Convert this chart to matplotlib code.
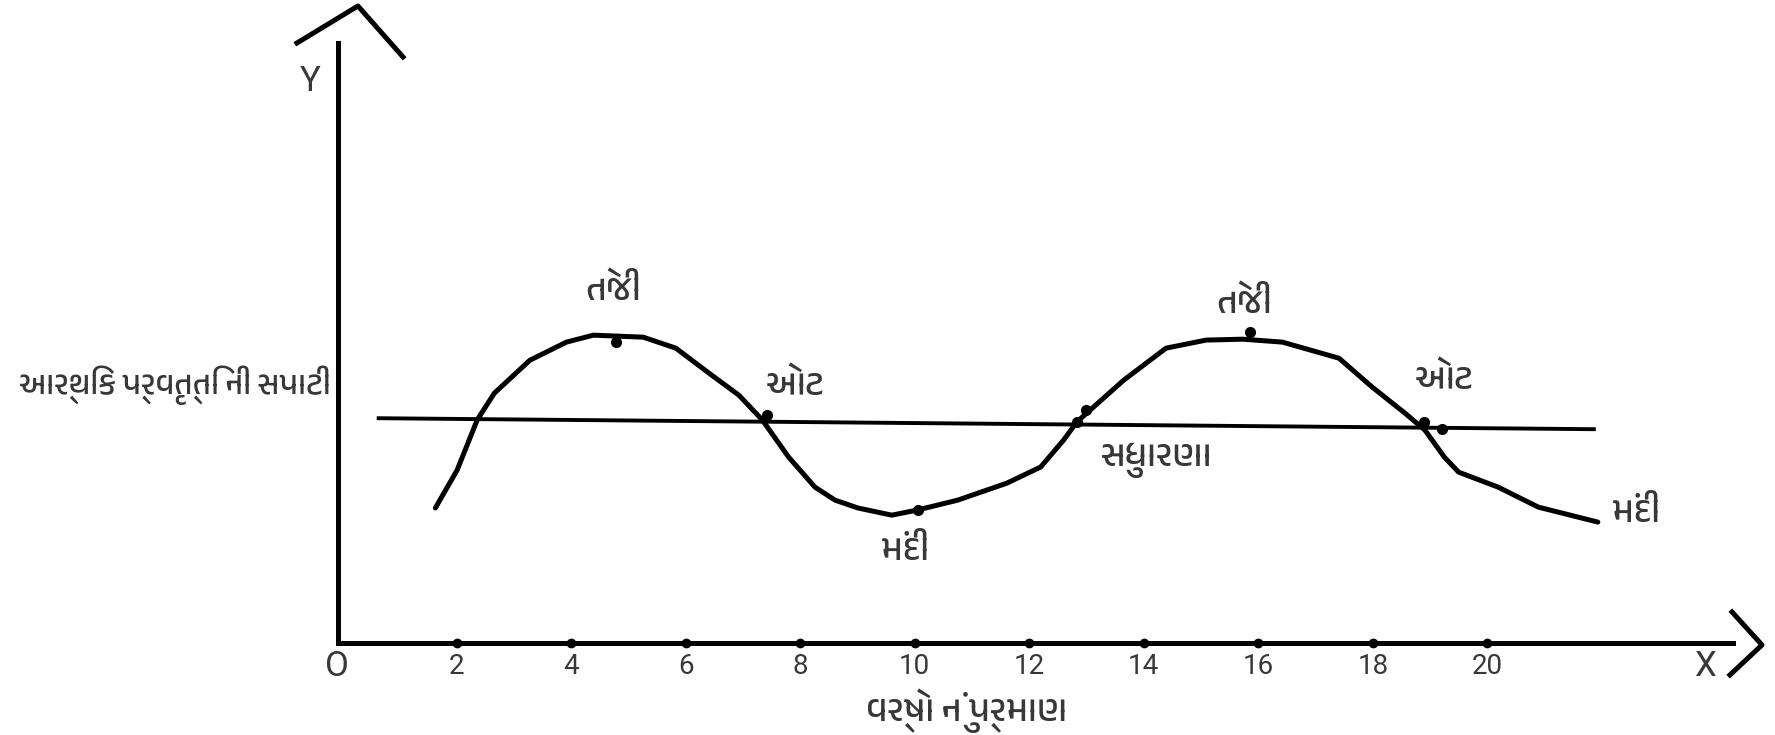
import matplotlib
matplotlib.use("Agg")
import matplotlib.pyplot as plt
from matplotlib import font_manager

# business cycle: x = years, y = activity index (level ~ 100)
years = [1.63, 2.01, 2.36, 2.66, 3.28, 3.92, 4.39, 5.26, 5.83, 6.41, 6.93, 7.34,
         7.80, 8.26, 8.61, 9.01, 9.60, 10.05, 10.75, 11.61, 12.20, 12.60, 12.83,
         13.65, 14.39, 15.09, 15.73, 16.42, 17.41, 17.99, 18.56, 18.91, 19.25,
         19.50, 20.19, 20.89, 21.93]
activity = [60.3, 77.2, 99.6, 111.6, 126.3, 134.4, 137.5, 136.6, 131.7, 120.5,
            110.7, 99.6, 83.0, 69.6, 63.8, 60.3, 57.1, 59.4, 63.8, 71.4, 78.6,
            90.6, 98.7, 117.4, 131.7, 135.3, 135.7, 134.4, 127.2, 114.3, 102.7,
            95.1, 83.0, 76.3, 69.6, 60.7, 54.0]

level_years = [0.64, 21.86]
level_values = [100.4, 95.5]

dot_years = [4.79, 7.43, 10.05, 12.83, 13.0, 15.85, 18.89, 19.20]
dot_values = [134.4, 101.8, 59.4, 98.7, 104.0, 138.8, 98.7, 95.5]

phase_labels = ["તેજી", "ઓટ", "મંદી", "સુધારણા", "તેજી", "ઓટ", "મંદી"]
label_years = [4.74, 7.92, 9.83, 14.22, 15.76, 19.25, 22.6]
label_values = [157.6, 115.2, 41.5, 81.7, 151.8, 118.3, 58.5]

year_ticks = [2, 4, 6, 8, 10, 12, 14, 16, 18, 20]

level_label = "આર્થિક પ્રવૃત્તિ ની સપાટી"
x_title = "વર્ષો નું પ્રમાણ"

# use a Gujarati font if the machine has one
guj = [f.name for f in font_manager.fontManager.ttflist
       if "Gujarati" in f.name or f.name in ("Shruti", "Rekha", "Lohit Gujarati")]
GUJ = guj[:1] + ["Noto Sans", "DejaVu Sans"]
LAT = ["Roboto", "DejaVu Sans"]
plt.rcParams["font.family"] = LAT

txt = "#383838"

fig = plt.figure(figsize=(17.75, 7.35), dpi=100)
ax = fig.add_axes([338 / 1775, 92 / 735, 1395 / 1775, 600 / 735])
ax.set_xlim(-0.07, 24.29)
ax.set_ylim(0, 268)

for s in ["top", "right"]:
    ax.spines[s].set_visible(False)
for s in ["left", "bottom"]:
    ax.spines[s].set_linewidth(3.6)
    ax.spines[s].set_color("black")

ax.set_xticks(year_ticks)
ax.set_yticks([])
ax.tick_params(axis="x", length=0, pad=7, labelsize=20, labelcolor=txt)
ax.plot(year_ticks, [0] * len(year_ticks), "o", color="black", ms=6,
        clip_on=False, zorder=5)

# arrow heads at the axis ends
ax.plot([-0.0294, 0.0143, 0.0466], [1.0, 1.0617, 0.9767], color="black", lw=3.6,
        transform=ax.transAxes, clip_on=False)
ax.plot([0.9993, 1.0208, 0.9978], [0.0517, -0.0033, -0.0533], color="black", lw=3.6,
        transform=ax.transAxes, clip_on=False)

ax.plot(level_years, level_values, color="black", lw=2.8)
ax.plot(years, activity, color="black", lw=3.6, solid_joinstyle="round",
        solid_capstyle="round")
ax.plot(dot_years, dot_values, "o", color="black", ms=7)

for s, x, y in zip(phase_labels, label_years, label_values):
    ax.text(x, y, s, ha="center", va="center", fontsize=26, color=txt,
            family=GUJ, fontweight="light")

ax.text(-0.19, 115.2, level_label, ha="right", va="center", fontsize=23,
        color=txt, family=GUJ, fontweight="light")
ax.text(10.9, -30.4, x_title, ha="center", va="center", fontsize=26, color=txt,
        family=GUJ, fontweight="light")

ax.text(-0.09, -10.3, "O", ha="center", va="center", fontsize=25, color=txt)
ax.text(23.8, -10.3, "X", ha="center", va="center", fontsize=25, color=txt)
ax.text(-0.56, 251, "Y", ha="center", va="center", fontsize=25, color=txt)

fig.savefig("out.png", dpi=100)
